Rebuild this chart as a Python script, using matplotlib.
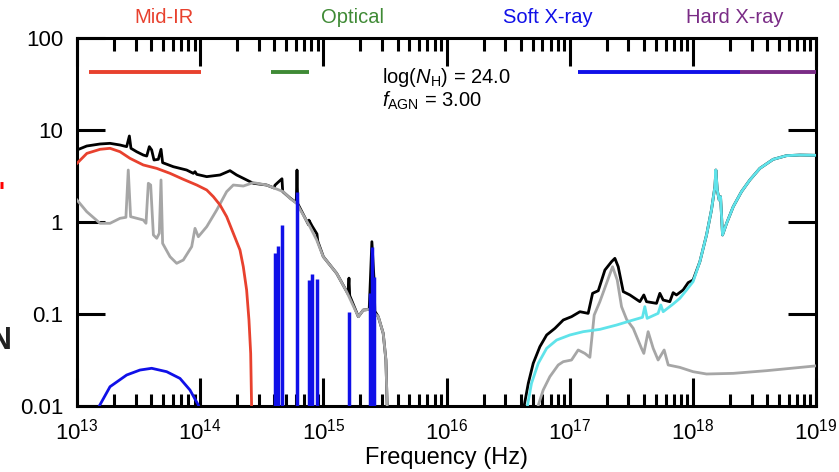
import numpy as np
import matplotlib
matplotlib.use("Agg")
import matplotlib.pyplot as plt
from matplotlib.lines import Line2D
from matplotlib.ticker import FixedLocator, FixedFormatter, LogLocator, NullFormatter

plt.rcParams['font.family'] = ['Liberation Sans', 'DejaVu Sans']
plt.rcParams['mathtext.fontset'] = 'custom'
plt.rcParams['mathtext.rm'] = 'Liberation Sans'
plt.rcParams['mathtext.it'] = 'Liberation Sans:italic'

# all values as log10(frequency / Hz), log10(flux)
total_lo_x = [13.00, 13.079, 13.187, 13.268, 13.349, 13.403, 13.425, 13.438, 13.484, 13.538, 13.566,
              13.587, 13.606, 13.625, 13.660, 13.682, 13.695, 13.782, 13.890, 13.944, 13.958, 13.972,
              14.053, 14.161, 14.242, 14.296, 14.377, 14.431, 14.539, 14.600, 14.607, 14.631, 14.664,
              14.670, 14.730, 14.780, 14.786, 14.792, 14.880, 14.883, 14.907, 14.948, 14.955, 15.000,
              15.108, 15.200, 15.208, 15.214, 15.284, 15.324, 15.372, 15.378, 15.394, 15.411, 15.418,
              15.446, 15.486, 15.508, 15.519]
total_lo_y = [0.783, 0.826, 0.848, 0.855, 0.837, 0.819, 0.935, 0.801, 0.764, 0.728, 0.717,
              0.819, 0.783, 0.674, 0.681, 0.790, 0.645, 0.601, 0.565, 0.529, 0.547, 0.518,
              0.493, 0.511, 0.558, 0.511, 0.457, 0.421, 0.402, 0.37, 0.40, 0.43, 0.47,
              0.33, 0.26, 0.21, 0.565, 0.20, -0.03, 0.02, -0.04, -0.13, -0.21, -0.377,
              -0.558, -0.78, -0.61, -0.80, -1.029, -0.957, -0.95, -0.76, -0.214, -0.61, -0.97,
              -1.029, -1.21, -1.50, -2.05]

total_hi_x = [16.623, 16.664, 16.704, 16.758, 16.813, 16.880, 16.948, 17.015, 17.083, 17.150, 17.186,
              17.232, 17.286, 17.340, 17.367, 17.394, 17.435, 17.489, 17.570, 17.602, 17.624, 17.705,
              17.732, 17.759, 17.813, 17.840, 17.867, 17.921, 17.962, 18.002, 18.057, 18.111, 18.151,
              18.179, 18.187, 18.198, 18.214, 18.225, 18.241, 18.274, 18.328, 18.395, 18.463, 18.544,
              18.652, 18.760, 18.869, 18.990, 19.0]
total_hi_y = [-2.05, -1.753, -1.536, -1.355, -1.228, -1.156, -1.065, -1.029, -0.975, -0.993, -0.775,
              -0.747, -0.522, -0.431, -0.395, -0.486, -0.757, -0.793, -0.866, -0.793, -0.866, -0.884,
              -0.775, -0.848, -0.866, -0.768, -0.793, -0.739, -0.659, -0.630, -0.431, -0.141, 0.130,
              0.384, 0.565, 0.348, 0.239, 0.275, -0.141, -0.014, 0.167, 0.330, 0.457, 0.583,
              0.681, 0.721, 0.728, 0.725, 0.725]

host_lo_x = [13.00, 13.079, 13.187, 13.268, 13.349, 13.397, 13.416, 13.435, 13.538, 13.560, 13.579,
             13.598, 13.620, 13.647, 13.668, 13.682, 13.695, 13.755, 13.809, 13.863, 13.931, 13.958,
             13.985, 14.053, 14.134, 14.215, 14.269, 14.350, 14.431, 14.539, 14.674, 14.729, 14.783,
             14.891, 14.946, 14.999, 15.108, 15.189, 15.284, 15.324, 15.378, 15.446, 15.486, 15.508,
             15.519]
host_lo_y = [0.239, 0.112, -0.014, -0.014, 0.040, 0.051, 0.565, 0.058, 0.022, -0.014, 0.421,
             0.402, -0.141, -0.177, -0.123, 0.457, -0.232, -0.377, -0.449, -0.413, -0.268, -0.069,
             -0.160, -0.051, 0.130, 0.330, 0.402, 0.391, 0.428, 0.402, 0.330, 0.257, 0.203,
             -0.051, -0.196, -0.377, -0.558, -0.757, -1.029, -0.957, -0.949, -1.029, -1.210, -1.500,
             -2.05]

host_hi_x = [16.731, 16.785, 16.839, 16.907, 16.948, 17.015, 17.069, 17.123, 17.164, 17.199, 17.245,
             17.299, 17.348, 17.386, 17.421, 17.462, 17.516, 17.583, 17.602, 17.637, 17.678, 17.718,
             17.767, 17.800, 17.894, 18.002, 18.111, 18.328, 18.598, 18.990, 19.0]
host_hi_y = [-2.05, -1.826, -1.681, -1.554, -1.518, -1.500, -1.391, -1.428, -1.471, -1.011, -0.866,
             -0.667, -0.486, -0.630, -0.920, -1.058, -1.156, -1.373, -1.428, -1.192, -1.373, -1.500,
             -1.391, -1.554, -1.580, -1.627, -1.652, -1.645, -1.616, -1.565, -1.563]

agn_ir_x = [13.00, 13.08, 13.187, 13.268, 13.349, 13.43, 13.538, 13.647, 13.755, 13.863, 13.972,
            14.053, 14.107, 14.161, 14.215, 14.269, 14.323, 14.350, 14.377, 14.396, 14.410, 14.418]
agn_ir_y = [0.638, 0.746, 0.790, 0.801, 0.764, 0.692, 0.620, 0.583, 0.529, 0.464, 0.402,
            0.348, 0.275, 0.185, 0.058, -0.123, -0.304, -0.486, -0.739, -1.065, -1.428, -2.05]

disk_x = [13.16, 13.268, 13.403, 13.511, 13.606, 13.728, 13.836, 13.917, 13.985, 14.0]
disk_y = [-2.05, -1.79, -1.663, -1.609, -1.590, -1.627, -1.700, -1.826, -1.99, -2.05]

lines_x = [14.607, 14.631, 14.664, 14.786, 14.883, 14.907, 14.948, 15.208, 15.378, 15.394, 15.411]
lines_y = [-0.34, -0.26, -0.03, 0.33, -0.63, -0.57, -0.62, -0.98, -0.77, -0.27, -0.60]

xray_x = [16.650, 16.690, 16.745, 16.813, 16.894, 17.002, 17.110, 17.245, 17.380, 17.516, 17.591,
          17.610, 17.629, 17.718, 17.740, 17.759, 17.840, 17.894, 17.949, 18.002, 18.057, 18.111,
          18.151, 18.179, 18.187, 18.198, 18.214, 18.225, 18.241, 18.274, 18.328, 18.395, 18.463,
          18.544, 18.652, 18.760, 18.869, 18.990, 19.0]
xray_y = [-2.05, -1.753, -1.536, -1.373, -1.283, -1.228, -1.192, -1.167, -1.120, -1.065, -1.036,
          -0.920, -1.047, -0.993, -0.902, -0.975, -0.891, -0.830, -0.739, -0.648, -0.431, -0.141,
          0.130, 0.384, 0.565, 0.348, 0.239, 0.275, -0.141, -0.014, 0.167, 0.330, 0.457,
          0.583, 0.681, 0.721, 0.728, 0.725, 0.725]

bands = ['Mid-IR', 'Optical', 'Soft X-ray', 'Hard X-ray']
band_lo = [13.097, 14.575, 17.07, 18.38]
band_hi = [14.006, 14.883, 18.38, 19.0]
band_label_pos = [13.71, 15.24, 16.82, 18.34]
band_colors = ['#e8412e', '#3f8a35', '#1010e8', '#7a2c86']

RED = '#e8412e'
GREY = '#a6a6a6'
BLUE = '#1010e8'
CYAN = '#5fe3ea'


def lin(a):
    return 10 ** np.array(a)


fig = plt.figure(figsize=(8.39, 4.72), dpi=100)
ax = fig.add_axes([0.0918, 0.1398, 0.8808, 0.7797])

lw = 2.0
ax.plot(lin(total_lo_x), lin(total_lo_y), color='black', lw=lw, zorder=2)
ax.plot(lin(total_hi_x), lin(total_hi_y), color='black', lw=lw, zorder=2)
ax.plot(lin(host_lo_x), lin(host_lo_y), color=GREY, lw=lw, zorder=3)
ax.plot(lin(host_hi_x), lin(host_hi_y), color=GREY, lw=lw, zorder=3)
ax.plot(lin(xray_x), lin(xray_y), color=CYAN, lw=lw, zorder=4)
ax.plot(lin(agn_ir_x), lin(agn_ir_y), color=RED, lw=lw, zorder=4)
ax.plot(lin(disk_x), lin(disk_y), color=BLUE, lw=lw, zorder=4)
ax.vlines(lin(lines_x), 0.005, lin(lines_y), color=BLUE, lw=2.5, zorder=5)

# wavelength coverage bars
for lo, hi, c in zip(band_lo, band_hi, band_colors):
    ax.plot([10 ** lo, 10 ** hi], [42.5, 42.5], color=c, lw=2.8, solid_capstyle='butt', zorder=5)

ax.set_xscale('log')
ax.set_yscale('log')
ax.set_xlim(1e13, 1e19)
ax.set_ylim(0.01, 100)

ax.xaxis.set_major_locator(FixedLocator([1e13, 1e14, 1e15, 1e16, 1e17, 1e18, 1e19]))
ax.xaxis.set_major_formatter(FixedFormatter([r'$10^{%d}$' % p for p in range(13, 20)]))
ax.xaxis.set_minor_locator(LogLocator(base=10, subs=np.arange(2, 10), numticks=20))
ax.xaxis.set_minor_formatter(NullFormatter())
ax.yaxis.set_major_locator(FixedLocator([0.01, 0.1, 1, 10, 100]))
ax.yaxis.set_major_formatter(FixedFormatter(['0.01', '0.1', '1', '10', '100']))
ax.yaxis.set_minor_locator(FixedLocator([]))

ax.tick_params(axis='both', which='major', direction='in', length=20, width=2.2,
               top=True, right=True, labelsize=16)
ax.tick_params(axis='x', which='major', pad=9)
ax.tick_params(axis='y', which='major', pad=10)
ax.tick_params(axis='x', which='minor', direction='in', length=9, width=2.2, top=True)
for s in ax.spines.values():
    s.set_linewidth(2.2)

ax.set_xlabel('Frequency (Hz)', fontsize=17, labelpad=2)

for name, x, c in zip(bands, band_label_pos, band_colors):
    ax.text(10 ** x, 1.056, name, transform=ax.get_xaxis_transform(), color=c,
            fontsize=14.5, ha='center', va='center')

ax.text(10 ** 15.48, 37, r'log($N_{\rm H}$) = 24.0', fontsize=14.5, ha='left', va='center')
ax.text(10 ** 15.48, 21, r'$f_{\rm AGN}$ = 3.00', fontsize=14.5, ha='left', va='center')

# pieces of the neighbouring panel at the left edge
fig.add_artist(Line2D([0, 0.004], [1 - 184.5 / 472, 1 - 184.5 / 472], color='red', lw=5,
                      solid_capstyle='butt'))
fig.text(-0.012, 1 - 341 / 472, 'N', fontsize=22, fontweight='bold', color='#222222',
         ha='left', va='center')

fig.savefig('out.png', dpi=100)
